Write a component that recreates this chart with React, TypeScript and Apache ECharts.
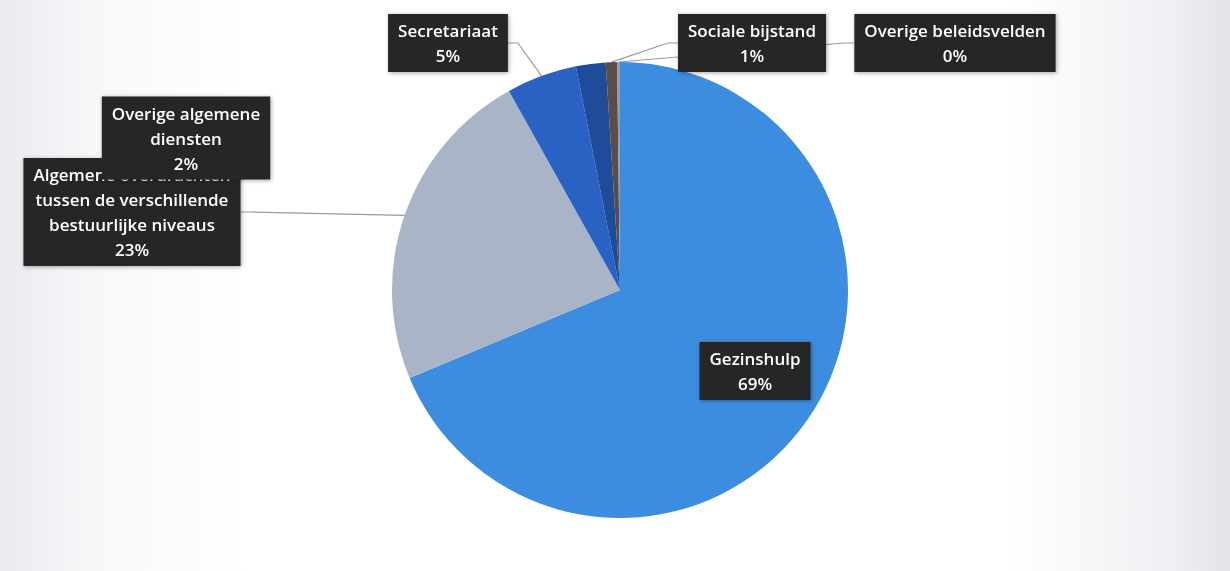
import React, { useEffect, useRef } from "react";
import * as echarts from "echarts";

const categories = [
  "Gezinshulp",
  "Algemene overdrachten\ntussen de verschillende\nbestuurlijke niveaus",
  "Secretariaat",
  "Overige algemene\ndiensten",
  "Sociale bijstand",
  "Overige beleidsvelden",
];
const values = [68.7, 23.2, 5.0, 2.1, 0.8, 0.2];
const colors = ["#3c8de0", "#a9b4c7", "#2a62c4", "#1e4c98", "#5b4c4a", "#9a9a9a"];
// label box centres (layout only)
const labelPos: [number, number][] = [
  [755, 371],
  [132, 212],
  [448, 43],
  [186, 138],
  [752, 43],
  [955, 43],
];
const showLine = [false, true, true, false, true, true];

export default function App() {
  const ref = useRef<HTMLDivElement>(null);
  useEffect(() => {
    const chart = echarts.init(ref.current!, undefined, { renderer: "svg" });
    chart.setOption({
      animation: false,
      graphic: [
        {
          type: "rect",
          z: -10,
          shape: { x: 0, y: 0, width: 1230, height: 571 },
          style: {
            fill: new echarts.graphic.LinearGradient(0, 0, 1, 0, [
              { offset: 0, color: "#e9ebef" },
              { offset: 0.08, color: "#f8f8fa" },
              { offset: 0.2, color: "#ffffff" },
              { offset: 0.82, color: "#ffffff" },
              { offset: 0.95, color: "#eef0f3" },
              { offset: 1, color: "#e2e4e8" },
            ]),
          },
          silent: true,
        },
      ],
      series: [
        {
          type: "pie",
          center: [620, 290],
          radius: 228,
          startAngle: 90,
          clockwise: true,
          percentPrecision: 0,
          data: categories.map((c, i) => ({
            name: c,
            value: values[i],
            itemStyle: { color: colors[i] },
            labelLine: { show: showLine[i] },
          })),
          label: {
            show: true,
            position: "outside",
            formatter: "{b}\n{d}%",
            color: "#ffffff",
            fontFamily: "Open Sans",
            fontWeight: 600,
            fontSize: 17,
            lineHeight: 25,
            align: "center",
            backgroundColor: "#262626",
            padding: [4, 10, 4, 10],
            shadowColor: "rgba(0,0,0,0.35)",
            shadowBlur: 4,
            shadowOffsetX: 1,
            shadowOffsetY: 1,
          },
          labelLine: {
            show: true,
            lineStyle: { color: "#9a9a9a", width: 1.2 },
            length: 10,
            length2: 10,
          },
          labelLayout: (params: any) => {
            const p = labelPos[params.dataIndex];
            return {
              x: p[0],
              y: p[1],
              align: "center",
              verticalAlign: "middle",
            };
          },
        },
      ],
    });
    return () => chart.dispose();
  }, []);
  return (
    <div
      ref={ref}
      style={{ position: "fixed", left: 0, top: 0, width: 1230, height: 571 }}
    />
  );
}
